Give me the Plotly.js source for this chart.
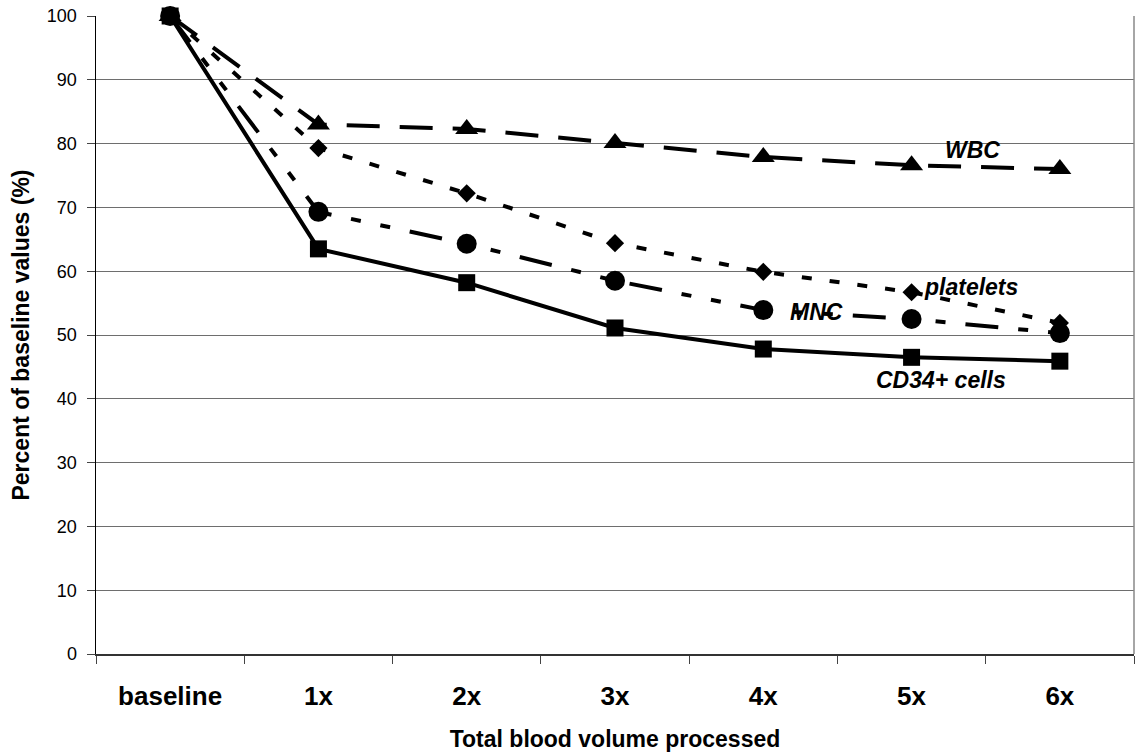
<!DOCTYPE html>
<html><head><meta charset="utf-8">
<script src="https://cdn.plot.ly/plotly-3.0.1.min.js"></script>
<style>html,body{margin:0;padding:0;background:#fff;}#c{width:1137px;height:756px;}</style>
</head><body><div id="c"></div>
<script>
const categories = ["baseline","1x","2x","3x","4x","5x","6x"];
const wbc = [100, 83.0, 82.3, 80.1, 77.9, 76.6, 76.0];
const platelets = [100, 79.3, 72.2, 64.4, 59.9, 56.7, 51.9];
const mnc = [100, 69.3, 64.3, 58.5, 53.9, 52.5, 50.3];
const cd34 = [100, 63.5, 58.2, 51.1, 47.8, 46.5, 45.9];
const yTicks = [0,10,20,30,40,50,60,70,80,90,100];

function tr(y, dash, sym, size){
  return {x: categories, y: y, type:'scatter', mode:'lines+markers', cliponaxis:false,
    line:{color:'#000', width:4, dash:dash},
    marker:{symbol:sym, size:size, color:'#000'}};
}
const data = [
  tr(wbc, '33px,20px', 'triangle-up', 20),
  tr(platelets, '10px,18px', 'diamond', 14),
  tr(mnc, '33px,20px,10px,20px,10px,20px', 'circle', 20),
  tr(cd34, 'solid', 'square', 17)
];
const af = {family:'Liberation Sans, Arial, sans-serif', size:23, color:'#000', weight:'bold', style:'italic'};
const layout = {
  width:1137, height:756, showlegend:false,
  paper_bgcolor:'#fff', plot_bgcolor:'#fff',
  margin:{l:96, r:3, t:16, b:102},
  font:{family:'Liberation Sans, Arial, sans-serif', color:'#000'},
  xaxis:{type:'category', range:[-0.5,6.5], tickson:'boundaries', ticks:'outside', ticklen:8, tickcolor:'#444',
    showgrid:false, showline:true, linecolor:'#333', linewidth:1.5, zeroline:false,
    tickfont:{size:26, weight:'bold'}, ticklabelstandoff:18,
    title:{text:'Total blood volume processed', font:{size:23, weight:'bold'}, standoff:21}},
  yaxis:{range:[0,100], tickvals:yTicks, ticks:'outside', ticklen:8, tickcolor:'#444',
    showgrid:true, gridcolor:'#6e6e6e', gridwidth:1, showline:true, linecolor:'#000', linewidth:1.5, zeroline:false,
    tickfont:{size:18}, ticklabelstandoff:6,
    title:{text:'Percent of baseline values (%)', font:{size:23, weight:'bold'}, standoff:11}},
  shapes:[{type:'line', xref:'paper', yref:'paper', x0:1, x1:1, y0:0, y1:1, line:{color:'#888', width:1.5}}],
  annotations:[
    {x:5.41, y:79.0, xref:'x', yref:'y', text:'WBC', showarrow:false, font:af},
    {x:5.40, y:57.5, xref:'x', yref:'y', text:'platelets', showarrow:false, font:af},
    {x:4.36, y:53.6, xref:'x', yref:'y', text:'MNC', showarrow:false, font:af},
    {x:5.20, y:42.9, xref:'x', yref:'y', text:'CD34+ cells', showarrow:false, font:af}
  ]
};
Plotly.newPlot('c', data, layout, {staticPlot:true});
</script></body></html>
